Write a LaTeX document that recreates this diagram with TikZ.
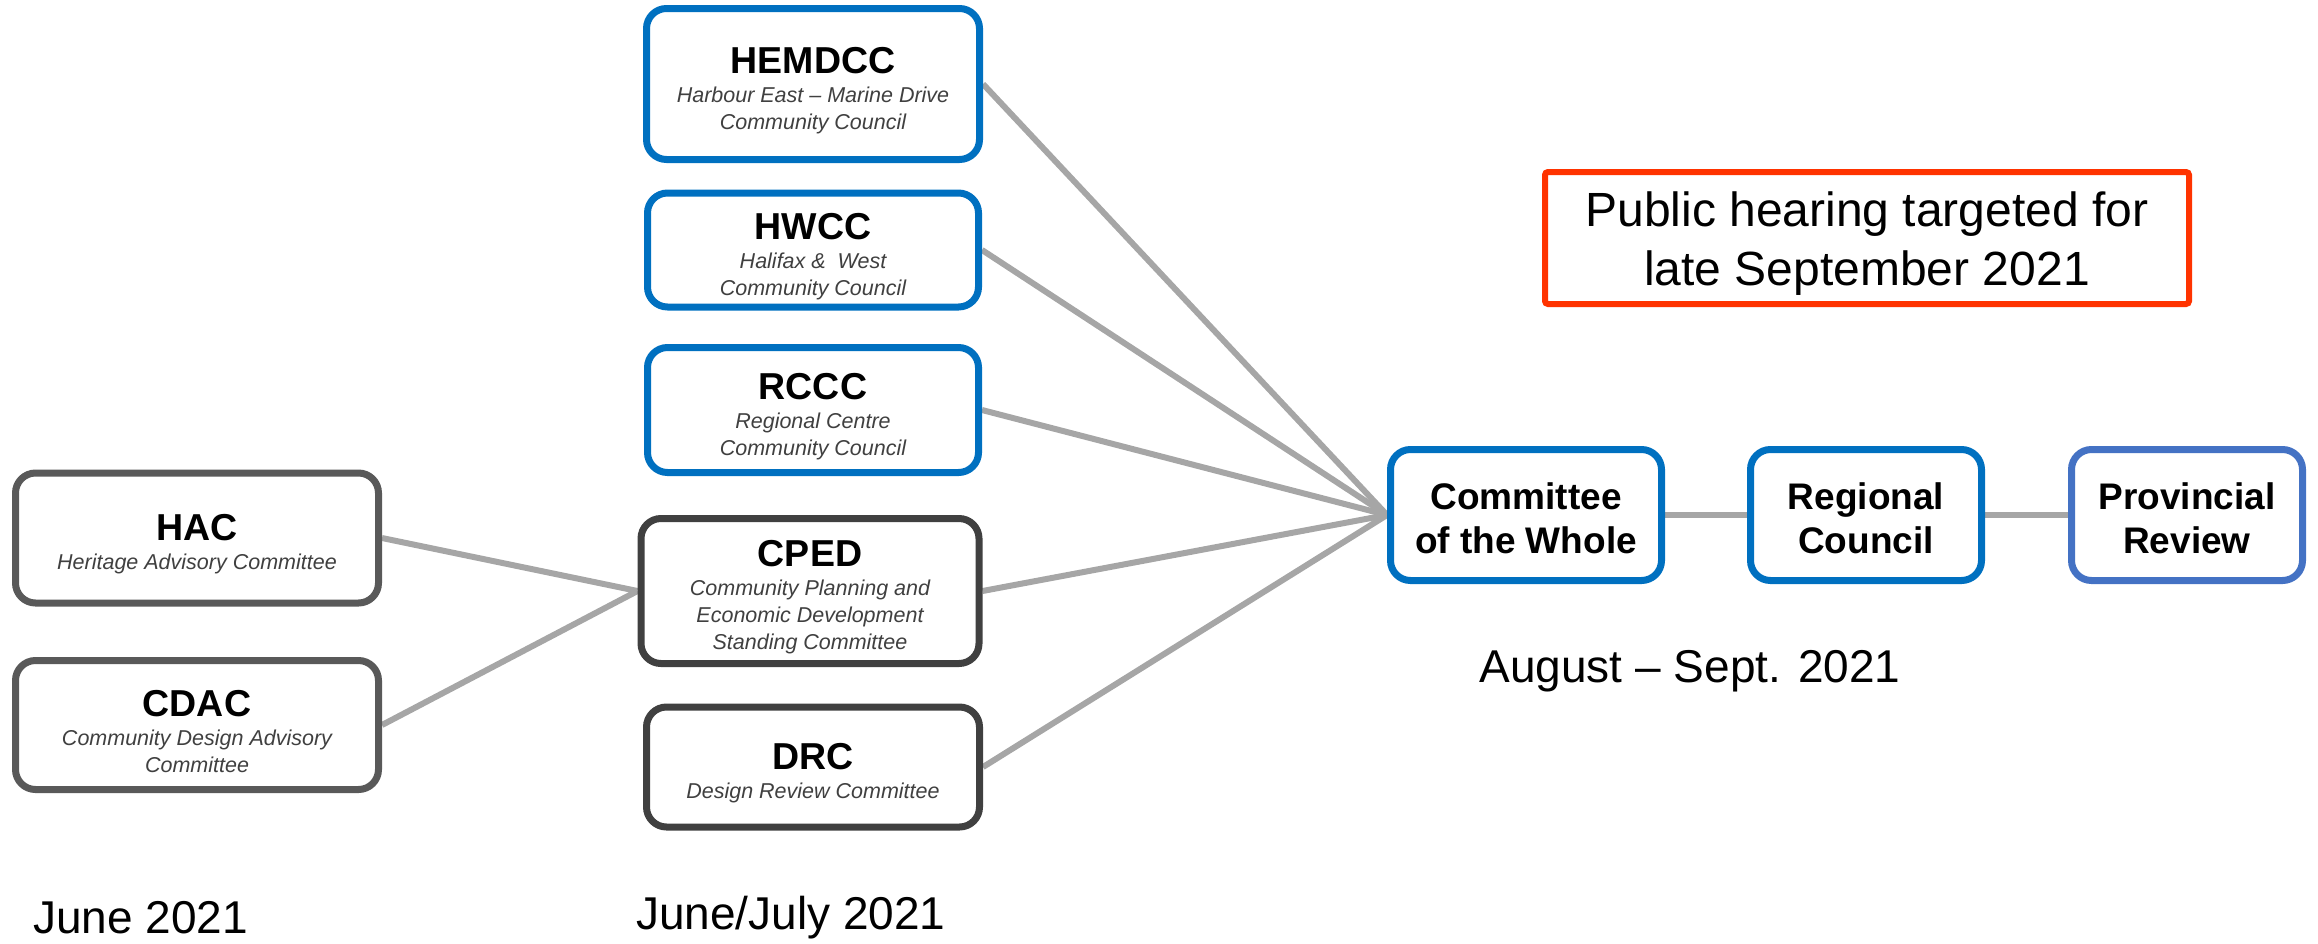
\documentclass[tikz,border=0pt]{standalone}
\usepackage{fontspec}
\setmainfont{Liberation Sans}
\usetikzlibrary{backgrounds}
\definecolor{boxblue}{HTML}{0070C0}
\definecolor{provblue}{HTML}{4472C4}
\definecolor{grayA}{HTML}{595959}
\definecolor{grayB}{HTML}{404040}
\definecolor{subtext}{HTML}{404040}
\definecolor{linkgray}{HTML}{A6A6A6}
\definecolor{hearred}{HTML}{FF3300}
\tikzset{
  basebox/.style={draw, fill=white, rounded corners=20pt, line width=7pt, align=center, inner sep=0pt,
    font=\fontsize{21.5}{27}\selectfont},
  bluebox/.style={basebox, draw=boxblue},
  provbox/.style={basebox, draw=provblue},
  grayboxA/.style={basebox, draw=grayA},
  grayboxB/.style={basebox, draw=grayB},
  bigbold/.style={font=\fontsize{37}{44}\selectfont\bfseries},
  link/.style={draw=linkgray, line width=6pt},
  datelabel/.style={font=\fontsize{46}{52}\selectfont, inner sep=0pt},
}
\newcommand{\ttl}[1]{{\fontsize{37.5}{37.5}\selectfont\bfseries\rule{0pt}{39pt}#1}}
\newcommand{\sub}[1]{{\itshape\color{subtext}#1}}
\begin{document}
\begin{tikzpicture}[x=1pt,y=-1pt]
\useasboundingbox (0,0) rectangle (2318,943);

\node[bluebox, minimum width=333pt, minimum height=151pt] (hem) at (813,84)
  {\ttl{HEMDCC}\\[2pt]\sub{Harbour East -- Marine Drive}\\\sub{Community Council}};
\node[bluebox, minimum width=331pt, minimum height=114pt] (hw) at (813,250)
  {\ttl{HWCC}\\[2pt]\sub{Halifax \&\ \ West}\\\sub{Community Council}};
\node[bluebox, minimum width=331pt, minimum height=125pt] (rc) at (813,410)
  {\ttl{RCCC}\\[2pt]\sub{Regional Centre}\\\sub{Community Council}};
\node[grayboxB, minimum width=338pt, minimum height=145pt] (cped) at (810,591)
  {\ttl{CPED}\\[2pt]\sub{Community Planning and}\\\sub{Economic Development}\\\sub{Standing Committee}};
\node[grayboxB, minimum width=333pt, minimum height=120pt] (drc) at (813,767)
  {\ttl{DRC}\\[2pt]\sub{Design Review Committee}};
\node[grayboxA, minimum width=363pt, minimum height=130pt] (hac) at (197,538)
  {\ttl{HAC}\\[2pt]\sub{Heritage Advisory Committee}};
\node[grayboxA, minimum width=363pt, minimum height=129pt] (cdac) at (197,725)
  {\ttl{CDAC}\\[2pt]\sub{Community Design Advisory}\\\sub{Committee}};

\node[bluebox, bigbold, minimum width=271pt, minimum height=131pt] (cow) at (1526,515)
  {\rule{0pt}{33pt}Committee\\of the Whole};
\node[bluebox, bigbold, minimum width=231pt, minimum height=131pt] (reg) at (1866,515)
  {\rule{0pt}{33pt}Regional\\Council};
\node[provbox, bigbold, minimum width=231pt, minimum height=131pt] (prov) at (2187,515)
  {\rule{0pt}{33pt}Provincial\\Review};

\node[draw=hearred, line width=6pt, rounded corners=3pt, fill=white, align=center,
  minimum width=644pt, minimum height=132pt, inner sep=0pt,
  font=\fontsize{48}{59}\selectfont] (hear) at (1867,238)
  {\rule{0pt}{46pt}Public hearing targeted for\\late September 2021};

\node[datelabel, anchor=west] (d1) at (33,918) {June 2021};
\node[datelabel, anchor=west] (d2) at (636,918) {June/July 2021};
\node[datelabel] (d3) at (1690,671) {August -- Sept. 2021};

\begin{pgfonlayer}{background}
\draw[link] (hac.east) -- (cped.west);
\draw[link] (cdac.east) -- (cped.west);
\draw[link] (hem.east) -- (cow.west);
\draw[link] (hw.east) -- (cow.west);
\draw[link] (rc.east) -- (cow.west);
\draw[link] (cped.east) -- (cow.west);
\draw[link] (drc.east) -- (cow.west);
\draw[link] (cow.east) -- (reg.west);
\draw[link] (reg.east) -- (prov.west);
\end{pgfonlayer}
\end{tikzpicture}
\end{document}
